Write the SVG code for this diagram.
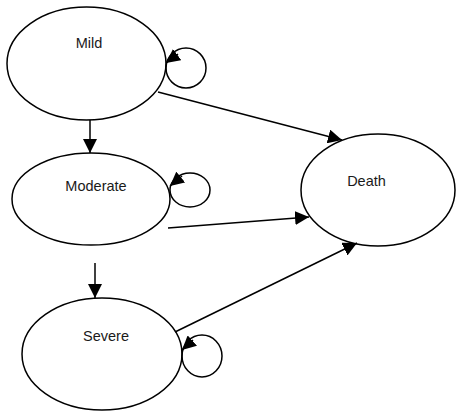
<svg xmlns="http://www.w3.org/2000/svg" width="456" height="411" viewBox="0 0 456 411">
  <style>
    .state { fill: #ffffff; stroke: #000000; stroke-width: 1.5; }
    .loop { fill: none; stroke: #000000; stroke-width: 1.5; }
    .edge { fill: none; stroke: #000000; stroke-width: 1.5; marker-end: url(#arrow); }
    .label { font-family: "Liberation Sans", Arial, Helvetica, sans-serif; font-size: 14.5px; fill: #1a1a1a; text-anchor: middle; }
  </style>
  <defs>
    <marker id="arrow" viewBox="0 0 14 14" refX="14" refY="7" markerWidth="14" markerHeight="14" markerUnits="userSpaceOnUse" orient="auto">
      <path d="M0,0 L14,7 L0,14 z" fill="#000000"/>
    </marker>
  </defs>
  <rect width="456" height="411" fill="#ffffff"/>

  <g id="mild">
    <ellipse class="state" cx="86.5" cy="63.5" rx="79.5" ry="56.5"/>
    <text class="label" x="89" y="48">Mild</text>
  </g>
  <g id="moderate">
    <ellipse class="state" cx="91" cy="199" rx="79" ry="46"/>
    <text class="label" x="96" y="191">Moderate</text>
  </g>
  <g id="severe">
    <ellipse class="state" cx="102" cy="354" rx="80" ry="56"/>
    <text class="label" x="106" y="341">Severe</text>
  </g>
  <g id="death">
    <ellipse class="state" cx="378" cy="190" rx="77" ry="56"/>
    <text class="label" x="366.5" y="186">Death</text>
  </g>

  <g id="connectors">
    <!-- progression between severity states -->
    <path class="edge" d="M90,120 L90,153"/>
    <path class="edge" d="M95,263 L95,298"/>
    <!-- transitions to death -->
    <path class="edge" d="M158,92 L342,140"/>
    <path class="edge" d="M168,228 L309,217"/>
    <path class="edge" d="M175,332 L357,243"/>
    <!-- self-loops -->
    <circle class="loop" cx="186" cy="68" r="20"/>
    <path class="edge" d="M178,54 L166,63"/>
    <ellipse class="loop" cx="190" cy="190" rx="20" ry="17"/>
    <path class="edge" d="M182,176 L170,186"/>
    <ellipse class="loop" cx="202" cy="356" rx="20" ry="21"/>
    <path class="edge" d="M193,340 L182,350"/>
  </g>
</svg>
